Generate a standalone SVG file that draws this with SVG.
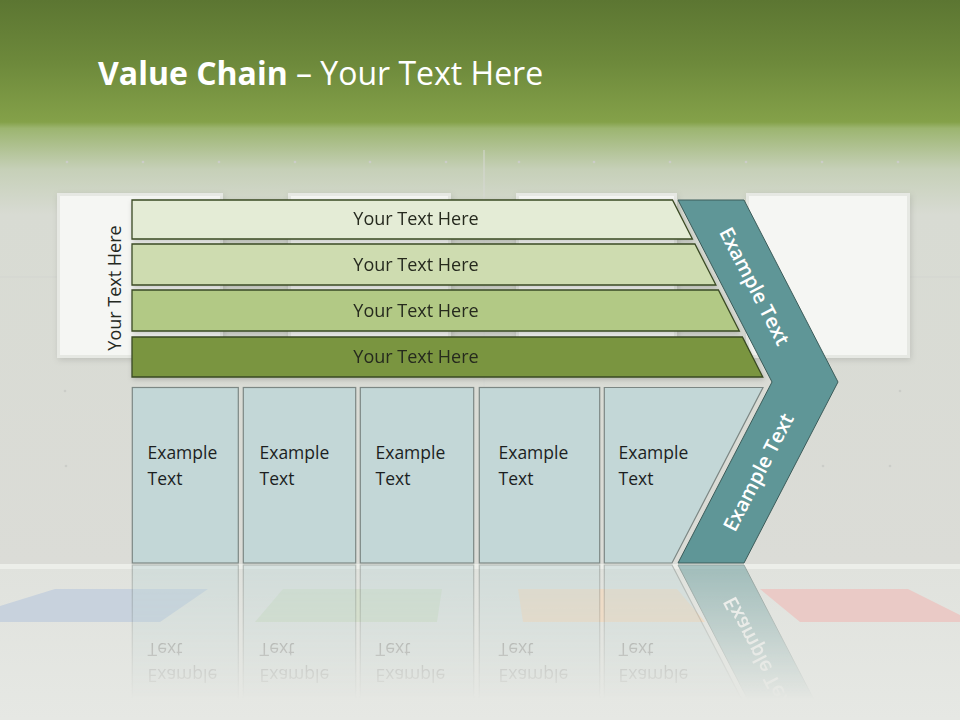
<svg xmlns="http://www.w3.org/2000/svg" xmlns:xlink="http://www.w3.org/1999/xlink" width="960" height="720" viewBox="0 0 960 720">
  <defs>
    <linearGradient id="wall" gradientUnits="userSpaceOnUse" x1="0" y1="0" x2="0" y2="565">
      <stop offset="0" stop-color="#5c7632"/>
      <stop offset="0.11" stop-color="#6d893b"/>
      <stop offset="0.216" stop-color="#84a149"/>
      <stop offset="0.227" stop-color="#9cb570"/>
      <stop offset="0.30" stop-color="#c6d0b8"/>
      <stop offset="0.38" stop-color="#d8dbd3"/>
      <stop offset="1" stop-color="#dbdcd7"/>
    </linearGradient>
    <linearGradient id="floor" gradientUnits="userSpaceOnUse" x1="0" y1="565" x2="0" y2="720">
      <stop offset="0" stop-color="#e0e2dd"/>
      <stop offset="1" stop-color="#e6e8e4"/>
    </linearGradient>
    <linearGradient id="fadeGrad" gradientUnits="userSpaceOnUse" x1="0" y1="564" x2="0" y2="700">
      <stop offset="0" stop-color="#fff" stop-opacity="0.5"/>
      <stop offset="1" stop-color="#fff" stop-opacity="0"/>
    </linearGradient>
    <mask id="fade" maskUnits="userSpaceOnUse" x="0" y="564" width="960" height="156">
      <rect x="0" y="564" width="960" height="156" fill="url(#fadeGrad)"/>
    </mask>
    <filter id="shadow" x="-10%" y="-10%" width="120%" height="130%">
      <feDropShadow dx="1" dy="2" stdDeviation="2.5" flood-color="#000" flood-opacity="0.18"/>
    </filter>
    <filter id="softShadow" x="-10%" y="-10%" width="120%" height="125%">
      <feDropShadow dx="1" dy="2" stdDeviation="3" flood-color="#000" flood-opacity="0.12"/>
    </filter>
  </defs>
  <style>
    .frame-outer { fill: #e6e8e3; }
    .frame-inner { fill: #f5f6f3; }
    .row { stroke: #3a4a24; stroke-width: 1.3; }
    .row-text { font-family: "Open Sans", "Noto Sans", sans-serif; font-size: 18px; fill: #25291f; text-anchor: middle; }
    .box { fill: #c3d7d7; stroke: #7c8784; stroke-width: 1.2; }
    .box-text { font-family: "Open Sans", "Noto Sans", sans-serif; font-size: 17.5px; fill: #1c1f1f; }
    .chev { fill: #5f9697; stroke: #3c5c5a; stroke-width: 1; }
    .chev-text { font-family: "Open Sans", "Noto Sans", sans-serif; font-size: 20px; font-weight: 600; fill: #ffffff; text-anchor: middle; dominant-baseline: central; }
    .dot { fill: #cbcdc8; }
  </style>

  <!-- background -->
  <rect x="0" y="0" width="960" height="566" fill="url(#wall)"/>
  <line x1="0" y1="277" x2="960" y2="277" stroke="#d3d5d0" stroke-width="1"/>
  <line x1="484" y1="150" x2="484" y2="565" stroke="#d6d8d3" stroke-width="1"/>
  <g id="wall-dots">
    <circle class="dot" cx="67" cy="162" r="1.3"/><circle class="dot" cx="143" cy="162" r="1.3"/>
    <circle class="dot" cx="219" cy="162" r="1.3"/><circle class="dot" cx="295" cy="162" r="1.3"/>
    <circle class="dot" cx="370" cy="162" r="1.3"/><circle class="dot" cx="446" cy="162" r="1.3"/>
    <circle class="dot" cx="519" cy="162" r="1.3"/><circle class="dot" cx="594" cy="162" r="1.3"/>
    <circle class="dot" cx="670" cy="162" r="1.3"/><circle class="dot" cx="746" cy="162" r="1.3"/>
    <circle class="dot" cx="822" cy="162" r="1.3"/><circle class="dot" cx="898" cy="162" r="1.3"/>
    <circle class="dot" cx="66" cy="466" r="1.3"/><circle class="dot" cx="823" cy="466" r="1.3"/>
    <circle class="dot" cx="890" cy="466" r="1.3"/><circle class="dot" cx="900" cy="391" r="1.3"/>
    <circle class="dot" cx="65" cy="391" r="1.3"/>
  </g>
  <rect x="0" y="566" width="960" height="154" fill="url(#floor)"/>
  <rect x="0" y="564" width="960" height="5" fill="#eceee9"/>

  <!-- floor colour patches -->
  <g id="floor-patches">
    <polygon points="55,589 208,589 160,622 0,622 0,606" fill="#c8d2dd"/>
    <polygon points="283,589 442,589 437,622 255,622" fill="#d5dfcd"/>
    <polygon points="518,589 677,589 705,622 523,622" fill="#eedcc7"/>
    <polygon points="760,589 908,589 960,615 960,622 800,622" fill="#eacac6"/>
  </g>

  <!-- title -->
  <g id="title">
    <text x="98" y="85" font-family="'Open Sans', 'Noto Sans', sans-serif" font-size="32" fill="#ffffff"><tspan font-weight="bold">Value Chain</tspan> – Your Text Here</text>
  </g>

  <!-- wall boards -->
  <g id="boards" filter="url(#softShadow)">
    <rect class="frame-outer" x="57" y="193" width="166" height="165"/>
    <rect class="frame-inner" x="60" y="196" width="160" height="159"/>
    <rect class="frame-outer" x="288" y="193" width="163" height="165"/>
    <rect class="frame-inner" x="291" y="196" width="157" height="159"/>
    <rect class="frame-outer" x="516" y="193" width="161" height="165"/>
    <rect class="frame-inner" x="519" y="196" width="155" height="159"/>
    <rect class="frame-outer" x="746" y="193" width="164" height="165"/>
    <rect class="frame-inner" x="749" y="196" width="158" height="159"/>
  </g>

  <g id="side-label">
    <text class="row-text" transform="translate(121,288) rotate(-90)">Your Text Here</text>
  </g>

  <!-- rows -->
  <g id="row1" filter="url(#shadow)">
    <path class="row" d="M132,200 L672.5,200 L692.4,239 L132,239 Z" fill="#e4ecd6"/>
    <text class="row-text" x="416" y="225">Your Text Here</text>
  </g>
  <g id="row2" filter="url(#shadow)">
    <path class="row" d="M132,244 L694.9,244 L715.9,285 L132,285 Z" fill="#cedcb0"/>
    <text class="row-text" x="416" y="271">Your Text Here</text>
  </g>
  <g id="row3" filter="url(#shadow)">
    <path class="row" d="M132,290 L718.4,290 L739.3,331 L132,331 Z" fill="#b2c985"/>
    <text class="row-text" x="416" y="317">Your Text Here</text>
  </g>
  <g id="row4" filter="url(#shadow)">
    <path class="row" d="M132,337 L742.4,337 L762.8,377 L132,377 Z" fill="#7a9540"/>
    <text class="row-text" x="416" y="363" fill="#1e2810">Your Text Here</text>
  </g>

  <!-- bottom boxes -->
  <g id="boxes">
    <g id="box1">
      <rect class="box" x="132.3" y="387.5" width="106" height="175.5"/>
      <text class="box-text" x="147.5" y="459">Example</text>
      <text class="box-text" x="147.5" y="485">Text</text>
    </g>
    <g id="box2">
      <rect class="box" x="243.3" y="387.5" width="112.4" height="175.5"/>
      <text class="box-text" x="259.5" y="459">Example</text>
      <text class="box-text" x="259.5" y="485">Text</text>
    </g>
    <g id="box3">
      <rect class="box" x="360.3" y="387.5" width="113.4" height="175.5"/>
      <text class="box-text" x="375.5" y="459">Example</text>
      <text class="box-text" x="375.5" y="485">Text</text>
    </g>
    <g id="box4">
      <rect class="box" x="479.3" y="387.5" width="120.4" height="175.5"/>
      <text class="box-text" x="498.5" y="459">Example</text>
      <text class="box-text" x="498.5" y="485">Text</text>
    </g>
    <g id="box5">
      <path class="box" d="M604.3,387.5 L763,387.5 L672,563 L604.3,563 Z"/>
      <text class="box-text" x="618.5" y="459">Example</text>
      <text class="box-text" x="618.5" y="485">Text</text>
    </g>
  </g>

  <!-- chevron -->
  <g id="chevron">
    <path class="chev" d="M678,200 L744,200 L838,382 L744,563 L678,563 L772,382 Z"/>
    <text class="chev-text" transform="translate(755,286) rotate(62.7)">Example Text</text>
    <text class="chev-text" transform="translate(758,472) rotate(-62.7)">Example Text</text>
  </g>

  <g id="connectors"></g>

  <!-- floor reflection -->
  <g id="reflection" mask="url(#fade)">
    <use xlink:href="#boxes" href="#boxes" transform="matrix(1 0 0 -1 0 1128)"/>
    <use xlink:href="#chevron" href="#chevron" transform="matrix(1 0 0 -1 0 1128)"/>
  </g>
</svg>
